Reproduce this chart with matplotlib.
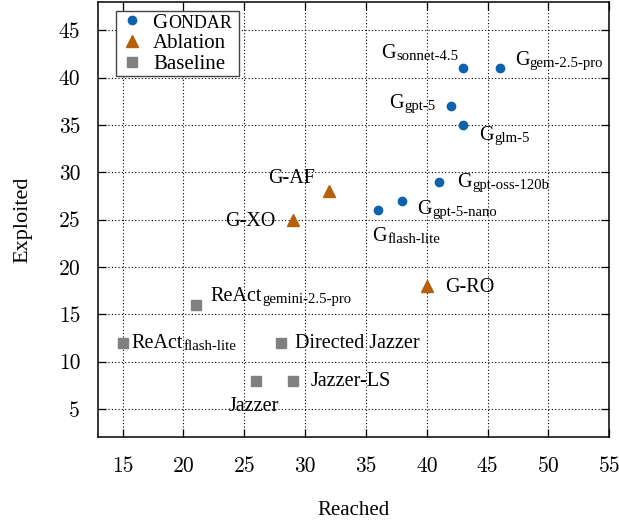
import matplotlib
matplotlib.use("Agg")
import matplotlib.pyplot as plt

# data
gondar_models = ["sonnet-4.5", "gem-2.5-pro", "gpt-5", "glm-5", "gpt-oss-120b", "gpt-5-nano", "flash-lite"]
gondar_reached = [43, 46, 42, 43, 41, 38, 36]
gondar_exploited = [41, 41, 37, 35, 29, 27, 26]

ablation_names = ["G-AF", "G-XO", "G-RO"]
ablation_reached = [32, 29, 40]
ablation_exploited = [28, 25, 18]

baseline_names = [("ReAct", "gemini-2.5-pro"), ("ReAct", "flash-lite"), ("Directed Jazzer", ""),
                  ("Jazzer", ""), ("Jazzer-LS", "")]
baseline_reached = [21, 15, 28, 26, 29]
baseline_exploited = [16, 12, 12, 8, 8]

x_ticks = [15, 20, 25, 30, 35, 40, 45, 50, 55]
y_ticks = [5, 10, 15, 20, 25, 30, 35, 40, 45]

# label placement: (dx, dy) in pixels from the marker centre to the text's left baseline, dy downward
offsets = {
    "sonnet-4.5": (-82, -10), "gem-2.5-pro": (15, -3), "gpt-5": (-62, 2), "glm-5": (16, 15),
    "gpt-oss-120b": (18, 5.6), "gpt-5-nano": (15, 13.4), "flash-lite": (-6, 30.7),
    "G-AF": (-61, -8), "G-XO": (-67.6, 6), "G-RO": (18, 6),
    "ReAct gemini-2.5-pro": (14.4, -4), "ReAct flash-lite": (9, 5), "Directed Jazzer": (14.5, 5),
    "Jazzer": (-28, 30), "Jazzer-LS": (17.4, 5),
}

BLUE = "#0d62ad"
ORANGE = "#b5610c"
GRAY = "#808080"
SERIF = "Liberation Serif"
FS = 14.5
SUB_FS = 10.6
LEG_FS = 15

plt.rcParams["font.family"] = SERIF

fig = plt.figure(figsize=(6.19, 5.25), dpi=100)
fig.subplots_adjust(left=0.1588, right=0.9843, top=0.9962, bottom=0.167)
ax = fig.add_subplot(111)


def put_label(x, y, main, sub, key):
    dx, dy = offsets[key]
    t = ax.annotate(main, (x, y), xytext=(dx, -dy), textcoords="offset pixels",
                    ha="left", va="baseline", fontsize=FS, zorder=4)
    if sub:
        ax.annotate(sub, xy=(1, 0), xycoords=t, xytext=(0.5, 3.0), textcoords="offset pixels",
                    ha="left", va="baseline", fontsize=SUB_FS, zorder=4)


ax.plot(gondar_reached, gondar_exploited, "o", color=BLUE, ms=6, ls="none", label="G" + " " * 13, zorder=3)
ax.plot(ablation_reached, ablation_exploited, "^", color=ORANGE, ms=8, ls="none", label="Ablation", zorder=3)
ax.plot(baseline_reached, baseline_exploited, "s", color=GRAY, ms=7, ls="none", label="Baseline", zorder=3)

for m, x, y in zip(gondar_models, gondar_reached, gondar_exploited):
    put_label(x, y, "G", m, m)
for n, x, y in zip(ablation_names, ablation_reached, ablation_exploited):
    put_label(x, y, n, "", n)
for (main, sub), x, y in zip(baseline_names, baseline_reached, baseline_exploited):
    key = f"{main} {sub}".strip()
    put_label(x, y, main, sub, key)

ax.set_xlim(13, 55)
ax.set_ylim(2, 48)
ax.set_xticks(x_ticks)
ax.set_yticks(y_ticks)
ax.set_xticklabels([str(v) for v in x_ticks], fontfamily="cmr10", fontsize=15.5)
ax.set_yticklabels([str(v) for v in y_ticks], fontfamily="cmr10", fontsize=15.5)
ax.tick_params(direction="in", length=6, width=0.9, top=True, right=True, pad=14, colors="black")
ax.tick_params(axis="y", pad=13)
ax.grid(True, color="black", linestyle=(0, (1, 2)), linewidth=0.8)
ax.set_axisbelow(True)
for s in ax.spines.values():
    s.set_linewidth(1.1)

ax.set_xlabel("Reached", fontsize=15, labelpad=18)
ax.set_ylabel("Exploited", fontsize=16, labelpad=19)

leg = ax.legend(loc="upper left", bbox_to_anchor=(0.034, 0.9793), borderaxespad=0, fontsize=LEG_FS,
                fancybox=False, edgecolor="#444444", framealpha=1, handletextpad=0.3,
                handlelength=1.4, labelspacing=0.05, borderpad=0.1)
leg.get_frame().set_linewidth(1.0)
leg.set_zorder(5)
ax.annotate("ONDAR", xy=(0, 0), xycoords=leg.get_texts()[0], xytext=(15.2, 0.8),
            textcoords="offset pixels", ha="left", va="bottom", fontsize=13, zorder=6)

fig.savefig("out.png", dpi=100)
